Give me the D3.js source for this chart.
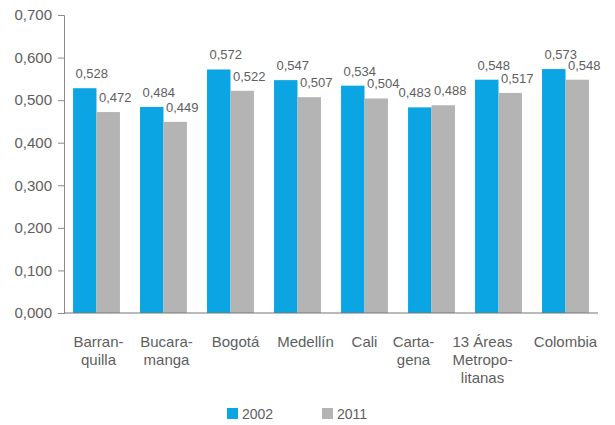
<!DOCTYPE html>
<html>
<head>
<meta charset="utf-8">
<script src="https://cdn.jsdelivr.net/npm/d3@7"></script>
<style>
  body { margin: 0; background: #fff; }
  text { font-family: "Liberation Sans", Arial, sans-serif; fill: #5e5e5e; }
</style>
</head>
<body>
<div id="chart"></div>
<script>
// categories (line breaks as in the original)
var categories = [
    ["Barran-", "quilla"],
    ["Bucara-", "manga"],
    ["Bogotá"],
    ["Medellín"],
    ["Cali"],
    ["Carta-", "gena"],
    ["13 Áreas", "Metropo-", "litanas"],
    ["Colombia"]
];
var values2002 = [0.528, 0.484, 0.572, 0.547, 0.534, 0.483, 0.548, 0.573];
var values2011 = [0.472, 0.449, 0.522, 0.507, 0.504, 0.488, 0.517, 0.548];
var seriesNames = ["2002", "2011"];
var yTicks = [0, 0.1, 0.2, 0.3, 0.4, 0.5, 0.6, 0.7];

var colors = ["#0aa5e2", "#b4b4b4"];
var W = 615, H = 425;
var m = { left: 64, right: 598, top: 15, bottom: 313 };
// the original places a few category labels a bit off-centre
var labelShift = [2, 3, 5, 8, 0, -18, -16, 0];

var fmt = function (v) { return d3.format(".3f")(v).replace(".", ","); };

var svg = d3.select("#chart").append("svg")
    .attr("width", W)
    .attr("height", H);

var x = d3.scaleBand()
    .domain(d3.range(categories.length))
    .range([m.left, m.right])
    .paddingInner(0.3)
    .paddingOuter(0.135);
var x1 = d3.scaleBand()
    .domain([0, 1])
    .range([0, x.bandwidth()]);
var y = d3.scaleLinear().domain([0, 0.7]).range([m.bottom, m.top]);

// y axis
var yAxis = d3.axisLeft(y)
    .tickValues(yTicks)
    .tickSize(6)
    .tickPadding(6)
    .tickFormat(fmt);
var gy = svg.append("g")
    .attr("transform", "translate(" + m.left + ",0)")
    .call(yAxis);
gy.select(".domain").attr("stroke", "#8a8a8a");
gy.selectAll(".tick line").attr("stroke", "#8a8a8a");
gy.selectAll(".tick text")
    .style("font-size", "15px")
    .attr("fill", "#5e5e5e");

// bars
var series = [values2002, values2011];
series.forEach(function (vals, s) {
    svg.append("g").selectAll("rect")
        .data(vals)
        .enter()
        .append("rect")
        .attr("x", function (d, i) { return x(i) + x1(s); })
        .attr("y", function (d) { return y(d); })
        .attr("width", x1.bandwidth())
        .attr("height", function (d) { return y(0) - y(d); })
        .attr("fill", colors[s]);

    svg.append("g").selectAll("text")
        .data(vals)
        .enter()
        .append("text")
        .attr("x", function (d, i) {
            var dx = 7;
            // keep blue label clear of the grey one when grey is taller
            if (s === 0 && values2011[i] >= d) dx = -5;
            return x(i) + x1(s) + x1.bandwidth() / 2 + dx;
        })
        .attr("y", function (d) { return y(d) - 10; })
        .attr("text-anchor", "middle")
        .style("font-size", "13px")
        .text(fmt);
});

// x axis line
svg.append("line")
    .attr("x1", m.left).attr("x2", m.right)
    .attr("y1", y(0)).attr("y2", y(0))
    .attr("stroke", "#777")
    .attr("stroke-width", 1.2);

// category labels
var cat = svg.append("g").selectAll("text")
    .data(categories)
    .enter()
    .append("text")
    .attr("text-anchor", "middle")
    .attr("x", function (d, i) { return x(i) + x.bandwidth() / 2 + labelShift[i]; })
    .attr("y", 347)
    .style("font-size", "15px");
cat.selectAll("tspan")
    .data(function (d) { return d; })
    .enter()
    .append("tspan")
    .attr("x", function () { return d3.select(this.parentNode).attr("x"); })
    .attr("dy", function (d, j) { return j === 0 ? 0 : 18; })
    .text(function (d) { return d; });

// legend
var legendX = [227, 322];
seriesNames.forEach(function (name, s) {
    svg.append("rect")
        .attr("x", legendX[s])
        .attr("y", 408)
        .attr("width", 11)
        .attr("height", 11)
        .attr("fill", colors[s]);
    svg.append("text")
        .attr("x", legendX[s] + 15)
        .attr("y", 419)
        .style("font-size", "14px")
        .text(name);
});
</script>
</body>
</html>
